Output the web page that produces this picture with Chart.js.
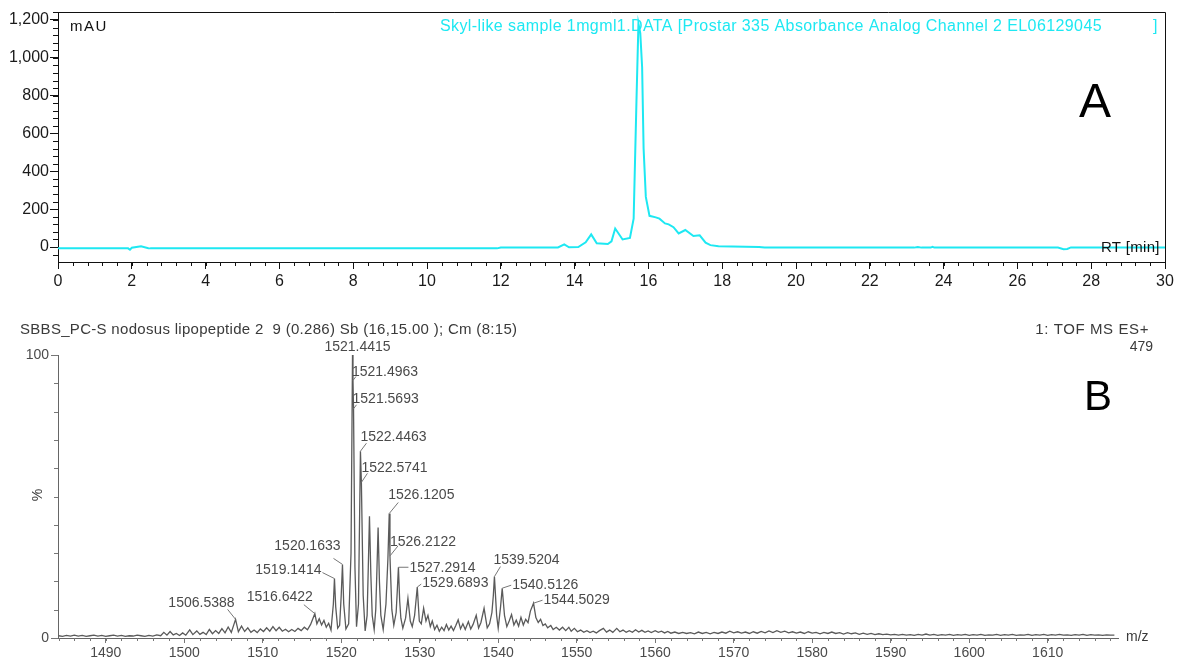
<!DOCTYPE html>
<html>
<head>
<meta charset="utf-8">
<script src="https://cdn.jsdelivr.net/npm/chart.js@4.4.1/dist/chart.umd.min.js"></script>
<style>
  html, body { margin: 0; padding: 0; background: #fff; }
  #wrap { position: relative; width: 1178px; height: 662px; overflow: hidden; }
  #chromCanvas { position: absolute; left: 0; top: 0; }
  #msCanvas { position: absolute; left: 0; top: 300px; }
</style>
</head>
<body>
<div id="wrap">
  <canvas id="chromCanvas" width="1178" height="300"></canvas>
  <canvas id="msCanvas" width="1178" height="362"></canvas>
</div>
<script>
// ---- panel A : chromatogram, [RT min, mAU]
const chromTrace = [
  [0, -7], [1.9, -7], [1.95, -14], [2.0, -4], [2.25, 4], [2.45, -6], [2.5, -7],
  [11.9, -7], [12.0, -2], [13.55, -2], [13.72, 14], [13.85, -1], [14.1, 0],
  [14.3, 25], [14.45, 67], [14.6, 20], [14.9, 16], [15.0, 30], [15.1, 98],
  [15.3, 40], [15.5, 48], [15.6, 150], [15.68, 800], [15.73, 1180], [15.78, 1130],
  [15.83, 950], [15.87, 520], [15.93, 265], [16.03, 165], [16.2, 157], [16.3, 150],
  [16.45, 125], [16.55, 120], [16.68, 105], [16.82, 72], [17.0, 90], [17.22, 58],
  [17.39, 62], [17.55, 23], [17.68, 10], [17.9, 4], [19.0, 0], [19.15, -3],
  [23.2, -3], [23.3, 0], [23.4, -3], [23.65, -3], [23.7, 1], [23.75, -3],
  [27.1, -3], [27.25, -12], [27.35, -10], [27.45, -2], [30, -2]
];
const chromXTicks = [0, 2, 4, 6, 8, 10, 12, 14, 16, 18, 20, 22, 24, 26, 28, 30];
const chromYTicks = [0, 200, 400, 600, 800, 1000, 1200];

// ---- panel B : mass spectrum, [m/z, %]
const msProfile = [
  [1484.0, 0.8], [1484.5, 0.6], [1485.0, 0.9], [1485.5, 0.7], [1486.0, 1.0], [1486.5, 0.7],
  [1487.0, 0.9], [1487.5, 0.6], [1488.0, 0.8], [1488.5, 1.0], [1489.0, 0.7], [1489.5, 0.9],
  [1490.0, 0.6], [1490.5, 0.8], [1491.0, 1.0], [1491.5, 0.7], [1492.0, 0.9], [1492.5, 0.6],
  [1493.0, 0.8], [1493.5, 0.7], [1494.0, 1.0], [1494.5, 0.8], [1495.0, 0.6], [1495.5, 0.9],
  [1496.0, 0.7], [1496.5, 1.1], [1497.0, 0.8], [1497.4, 2.0], [1497.8, 1.0], [1498.2, 2.3],
  [1498.6, 1.1], [1499.0, 1.6], [1499.4, 0.9], [1499.8, 1.8], [1500.2, 1.0], [1500.7, 2.9],
  [1501.1, 1.2], [1501.6, 2.5], [1502.0, 1.3], [1502.4, 2.0], [1502.8, 1.2], [1503.2, 3.0],
  [1503.6, 1.5], [1504.0, 2.6], [1504.4, 1.6], [1504.8, 3.3], [1505.2, 1.8], [1505.6, 3.9],
  [1506.0, 2.0], [1506.54, 6.6], [1506.9, 2.2], [1507.3, 4.2], [1507.7, 2.3], [1508.1, 3.6],
  [1508.5, 2.0], [1508.9, 2.8], [1509.3, 1.9], [1509.7, 3.2], [1510.1, 2.3], [1510.5, 3.6],
  [1510.9, 2.4], [1511.3, 4.0], [1511.7, 2.6], [1512.1, 3.8], [1512.5, 2.4], [1512.9, 3.1],
  [1513.3, 2.2], [1513.7, 3.0], [1514.1, 2.3], [1514.5, 3.4], [1514.9, 2.6], [1515.3, 3.8],
  [1515.7, 2.9], [1516.1, 4.8], [1516.64, 8.6], [1516.9, 5.0], [1517.2, 6.8], [1517.5, 4.6],
  [1517.8, 6.2], [1518.1, 3.8], [1518.4, 5.2], [1518.7, 2.8], [1519.0, 12], [1519.14, 21], [1519.3, 11],
  [1519.55, 3.5], [1519.8, 4.5], [1520.0, 15], [1520.16, 26], [1520.32, 12], [1520.6, 3.2], [1520.95, 5],
  [1521.25, 30], [1521.44, 100], [1521.5, 91], [1521.57, 81], [1521.75, 25], [1521.95, 4], [1522.2, 12],
  [1522.45, 66], [1522.57, 55], [1522.8, 15], [1523.05, 2.5], [1523.3, 8], [1523.45, 25], [1523.6, 43],
  [1523.78, 22], [1523.95, 8], [1524.2, 3], [1524.4, 10], [1524.55, 24], [1524.7, 39], [1524.87, 20],
  [1525.05, 8], [1525.35, 3], [1525.7, 12], [1525.95, 28], [1526.12, 44], [1526.21, 29], [1526.45, 10],
  [1526.7, 4.5], [1527.0, 9], [1527.15, 17], [1527.29, 25], [1527.45, 13], [1527.6, 7], [1527.85, 3.5],
  [1528.2, 7], [1528.5, 14], [1528.8, 6], [1529.05, 4], [1529.35, 8], [1529.52, 13], [1529.69, 18],
  [1529.95, 6], [1530.2, 5], [1530.5, 10.5], [1530.8, 6],
  [1531.05, 8], [1531.35, 4], [1531.6, 6], [1531.9, 3], [1532.2, 4.5], [1532.5, 2.4],
  [1532.8, 3.8], [1533.1, 2.6], [1533.4, 4.8], [1533.7, 2.8], [1534.0, 4.2], [1534.3, 2.6],
  [1534.6, 4.4], [1534.9, 6.4], [1535.2, 3.2], [1535.5, 5], [1535.8, 3], [1536.2, 5.8],
  [1536.5, 3.2], [1536.8, 4.8], [1537.2, 8], [1537.5, 3.5], [1537.8, 5.5], [1538.2, 10.5],
  [1538.6, 3.6], [1538.9, 5], [1539.2, 9], [1539.38, 15], [1539.52, 21.7], [1539.8, 8], [1540.0, 3.5],
  [1540.3, 11], [1540.51, 17.6], [1540.8, 8], [1541.1, 4], [1541.4, 6], [1541.7, 8.3], [1542.0, 4.6],
  [1542.3, 6.3], [1542.6, 4.2], [1542.9, 7.3], [1543.2, 4.6], [1543.5, 6.6], [1543.8, 5.4],
  [1544.1, 9.5], [1544.5, 12.3], [1544.8, 7.2], [1545.1, 5.5], [1545.4, 6.6], [1545.7, 4.4],
  [1546.0, 5], [1546.3, 3.6], [1546.7, 4.4], [1547.0, 3], [1547.4, 3.8], [1547.8, 2.8],
  [1548.2, 3.8], [1548.6, 2.6], [1549.0, 3.8], [1549.3, 2.4], [1549.7, 3.4], [1550.1, 2.2],
  [1550.5, 2.8], [1550.9, 2.0], [1551.3, 2.6], [1551.7, 1.9], [1552.1, 2.4], [1552.5, 1.8],
  [1552.9, 2.6], [1553.4, 3.4], [1553.8, 2.1], [1554.2, 2.8], [1554.6, 2.0], [1555.1, 3.4],
  [1555.5, 2.2], [1555.9, 2.8], [1556.3, 2.0], [1556.7, 2.6], [1557.1, 2.0], [1557.5, 2.9],
  [1557.9, 2.1], [1558.3, 2.7], [1558.7, 2.0], [1559.1, 2.5], [1559.5, 1.9], [1560.0, 2.6],
  [1560.4, 2.0], [1560.8, 2.4], [1561.2, 1.8], [1561.6, 2.3], [1562.0, 1.7], [1562.5, 2.1],
  [1563.0, 1.6], [1563.5, 2.0], [1564.0, 1.6], [1564.5, 1.9], [1565.0, 1.5], [1565.5, 2.1],
  [1566.0, 1.6], [1566.5, 2.0], [1567.0, 1.5], [1567.5, 2.0], [1568.0, 1.6], [1568.5, 2.1],
  [1569.0, 1.7], [1569.5, 2.4], [1570.0, 1.8], [1570.5, 2.2], [1571.0, 1.7], [1571.5, 2.1],
  [1572.0, 1.6], [1572.5, 2.2], [1573.0, 1.7], [1573.5, 2.3], [1574.0, 1.8], [1574.5, 2.5],
  [1575.0, 1.9], [1575.5, 2.6], [1576.0, 2.0], [1576.5, 2.4], [1577.0, 1.8], [1577.5, 2.2],
  [1578.0, 1.7], [1578.5, 2.1], [1579.0, 1.6], [1579.5, 2.2], [1580.0, 1.7], [1580.5, 2.0],
  [1581.0, 1.5], [1581.5, 2.0], [1582.0, 1.6], [1582.5, 2.1], [1583.0, 1.6], [1583.5, 1.9],
  [1584.0, 1.4], [1584.5, 1.9], [1585.0, 1.5], [1585.5, 1.8], [1586.0, 1.3], [1586.5, 1.7],
  [1587.0, 1.3], [1587.5, 1.6], [1588.0, 1.2], [1588.5, 1.5], [1589.0, 1.2], [1589.5, 1.4],
  [1590.0, 1.1], [1590.5, 1.3], [1591.0, 1.0], [1591.5, 1.3], [1592.0, 1.0], [1592.5, 1.2],
  [1593.0, 0.9], [1593.5, 1.3], [1594.0, 1.0], [1594.5, 1.4], [1595.0, 1.0], [1595.5, 1.3],
  [1596.0, 0.9], [1596.5, 1.2], [1597.0, 1.0], [1597.5, 1.3], [1598.0, 0.9], [1598.5, 1.2],
  [1599.0, 1.0], [1599.5, 1.3], [1600.0, 0.9], [1600.5, 1.2], [1601.0, 1.0], [1601.5, 1.3],
  [1602.0, 0.9], [1602.5, 1.1], [1603.0, 1.0], [1603.5, 1.3], [1604.0, 0.9], [1604.5, 1.2],
  [1605.0, 1.0], [1605.5, 1.3], [1606.0, 0.9], [1606.5, 1.1], [1607.0, 1.0], [1607.5, 1.3],
  [1608.0, 0.9], [1608.5, 1.2], [1609.0, 1.0], [1609.5, 1.3], [1610.0, 0.9], [1610.5, 1.2],
  [1611.0, 1.0], [1611.5, 1.3], [1612.0, 1.0], [1612.5, 1.1], [1613.0, 0.9], [1613.5, 1.2],
  [1614.0, 1.0], [1614.5, 1.3], [1615.0, 0.9], [1615.5, 1.2], [1616.0, 1.0], [1616.5, 1.1],
  [1617.0, 0.9], [1617.5, 1.1], [1618.0, 1.0], [1618.5, 1.0]
];
const msXTicks = [1490, 1500, 1510, 1520, 1530, 1540, 1550, 1560, 1570, 1580, 1590, 1600, 1610];
const msYTicks = [0, 100];

// labelled peaks (m/z, % at the peak)
const peakLabelMz = [1521.4415, 1521.4963, 1521.5693, 1522.4463, 1522.5741, 1526.1205, 1526.2122, 1527.2914,
  1529.6893, 1520.1633, 1519.1414, 1516.6422, 1506.5388, 1539.5204, 1540.5126, 1544.5029];
const peakLabelPct = [100, 91, 81, 66, 55, 44, 29, 25, 18, 26, 21, 8.6, 6.6, 21.7, 17.6, 12.3];

// where each label text sits relative to its peak (px)
const labelLayout = [
  { align: 'center', dx: 5, dy: -8, lead: null },
  { align: 'left', dx: -1, dy: -8, lead: [3, -4] },
  { align: 'left', dx: -1, dy: -9.5, lead: [3, -4] },
  { align: 'left', dx: 0, dy: -14, lead: [6, -8] },
  { align: 'left', dx: 0, dy: -14, lead: [6, -9] },
  { align: 'left', dx: -1, dy: -18, lead: [9, -11] },
  { align: 'left', dx: 0, dy: -13.5, lead: [8, -10] },
  { align: 'left', dx: 11, dy: 1, lead: [10, 0] },
  { align: 'left', dx: 5, dy: -4, lead: [4, -3] },
  { align: 'right', dx: -2, dy: -18, lead: [-9, -6] },
  { align: 'right', dx: -13, dy: -8, lead: [-12, -6] },
  { align: 'right', dx: -2, dy: -17, lead: [-11, -9] },
  { align: 'right', dx: -1, dy: -16, lead: [-8, -10] },
  { align: 'left', dx: -1, dy: -16.6, lead: [6, -10] },
  { align: 'left', dx: 10, dy: -3, lead: [9, -3] },
  { align: 'left', dx: 10, dy: -3, lead: [9, -3] }
];

const FONT = "'Liberation Sans', Arial, Helvetica, sans-serif";
Chart.defaults.font.family = FONT;

// free text drawn on top of a chart
const panelText = {
  id: 'panelText',
  afterDraw(chart, args, opts) {
    const ctx = chart.ctx;
    (opts.items || []).forEach(t => {
      ctx.save();
      ctx.font = t.font;
      ctx.fillStyle = t.color;
      ctx.textAlign = t.align || 'left';
      ctx.textBaseline = t.baseline || 'middle';
      if ('letterSpacing' in ctx) ctx.letterSpacing = t.spacing || '0px';
      ctx.translate(t.x, t.y);
      if (t.rotate) ctx.rotate(t.rotate);
      ctx.fillText(t.text, 0, 0);
      ctx.restore();
    });
  }
};

// small unlabelled ticks between the main ones, plus optional top/right frame
const minorTicks = {
  id: 'minorTicks',
  afterDraw(chart, args, opts) {
    const { ctx, chartArea } = chart;
    const xs = chart.scales.x, ys = chart.scales.y;
    ctx.save();
    ctx.strokeStyle = opts.color;
    ctx.lineWidth = 1;
    ctx.beginPath();
    const nx = Math.floor((xs.max - opts.xFrom) / opts.xStep + 1e-6);
    for (let i = 0; i <= nx; i++) {
      const p = Math.round(xs.getPixelForValue(opts.xFrom + i * opts.xStep)) + 0.5;
      ctx.moveTo(p, chartArea.bottom);
      ctx.lineTo(p, chartArea.bottom + opts.xLen);
    }
    const ny = Math.floor((ys.max - opts.yFrom) / opts.yStep + 1e-6);
    for (let i = 0; i <= ny; i++) {
      const p = Math.round(ys.getPixelForValue(opts.yFrom + i * opts.yStep)) + 0.5;
      ctx.moveTo(chartArea.left, p);
      ctx.lineTo(chartArea.left - opts.yLen, p);
    }
    if (opts.frame) {
      ctx.moveTo(chartArea.left, Math.round(chartArea.top) + 0.5);
      ctx.lineTo(chartArea.right + 0.5, Math.round(chartArea.top) + 0.5);
      ctx.lineTo(Math.round(chartArea.right) + 0.5, chartArea.bottom);
    }
    ctx.stroke();
    ctx.restore();
  }
};

const peakLabels = {
  id: 'peakLabels',
  afterDatasetsDraw(chart, args, opts) {
    if (!opts.show) return;
    const ctx = chart.ctx;
    const xs = chart.scales.x, ys = chart.scales.y;
    ctx.save();
    ctx.font = opts.font;
    ctx.fillStyle = opts.color;
    ctx.strokeStyle = opts.lineColor;
    ctx.lineWidth = 1;
    ctx.textBaseline = 'middle';
    peakLabelMz.forEach((mz, i) => {
      const px = xs.getPixelForValue(mz);
      const py = ys.getPixelForValue(peakLabelPct[i]);
      const lay = labelLayout[i];
      if (lay.lead) {
        ctx.beginPath();
        ctx.moveTo(px, py);
        ctx.lineTo(px + lay.lead[0], py + lay.lead[1]);
        ctx.stroke();
      }
      ctx.textAlign = lay.align;
      ctx.fillText(mz.toFixed(4), px + lay.dx, py + lay.dy);
    });
    ctx.restore();
  }
};

const CYAN = 'rgb(30,232,242)';

new Chart(document.getElementById('chromCanvas'), {
  type: 'line',
  data: {
    datasets: [{
      data: chromTrace.map(p => ({ x: p[0], y: p[1] })),
      borderColor: CYAN,
      borderWidth: 2,
      pointRadius: 0,
      tension: 0
    }]
  },
  options: {
    responsive: false,
    animation: false,
    events: [],
    layout: { padding: { top: 12, right: 13, left: 0, bottom: 0 } },
    plugins: {
      legend: { display: false },
      tooltip: { enabled: false },
      minorTicks: { color: '#111', xFrom: 0, xStep: 0.4, xLen: 4, yFrom: -40, yStep: 40, yLen: 5, frame: true },
      peakLabels: { show: false },
      panelText: {
        items: [
          { text: 'mAU', x: 70, y: 27, font: '15px ' + FONT, color: '#111', spacing: '1.5px' },
          { text: 'Skyl-like sample 1mgml1.DATA [Prostar 335 Absorbance Analog Channel 2 EL06129045', x: 440, y: 27, font: '16px ' + FONT, color: CYAN, spacing: '0.4px' },
          { text: ']', x: 1153, y: 27, font: '16px ' + FONT, color: CYAN },
          { text: 'RT [min]', x: 1101, y: 248, font: '15px ' + FONT, color: '#111', spacing: '0.3px' },
          { text: 'A', x: 1079, y: 117, font: '48px ' + FONT, color: '#000', baseline: 'alphabetic' }
        ]
      }
    },
    scales: {
      x: {
        type: 'linear', min: 0, max: 30,
        afterBuildTicks: s => { s.ticks = chromXTicks.map(v => ({ value: v })); },
        afterFit: s => { s.height = 38; },
        grid: { drawOnChartArea: false, tickLength: 7, color: '#111' },
        border: { color: '#111', width: 1 },
        ticks: { font: { size: 16 }, color: '#1a1a1a', padding: 3, maxRotation: 0 }
      },
      y: {
        type: 'linear', min: -79, max: 1242,
        afterBuildTicks: s => { s.ticks = chromYTicks.map(v => ({ value: v })); },
        afterFit: s => { s.width = 58; },
        grid: { drawOnChartArea: false, tickLength: 8, color: '#111' },
        border: { color: '#111', width: 1 },
        ticks: { font: { size: 16 }, color: '#1a1a1a', padding: 1, callback: v => v.toLocaleString('en-US') }
      }
    }
  },
  plugins: [minorTicks, panelText, peakLabels]
});

const GREY = '#4a4a4a';

new Chart(document.getElementById('msCanvas'), {
  type: 'line',
  data: {
    datasets: [{
      data: msProfile.map(p => ({ x: p[0], y: p[1] })),
      borderColor: '#5a5a5a',
      borderWidth: 1.3,
      pointRadius: 0,
      tension: 0
    }]
  },
  options: {
    responsive: false,
    animation: false,
    events: [],
    layout: { padding: { top: 55, right: 60, left: 0, bottom: 0 } },
    plugins: {
      legend: { display: false },
      tooltip: { enabled: false },
      minorTicks: { color: '#777', xFrom: 1484, xStep: 2, xLen: 3, yFrom: 0, yStep: 10, yLen: 4, frame: false },
      peakLabels: { show: true, font: '14px ' + FONT, color: GREY, lineColor: '#777' },
      panelText: {
        items: [
          { text: 'SBBS_PC-S nodosus lipopeptide 2  9 (0.286) Sb (16,15.00 ); Cm (8:15)', x: 20, y: 30, font: '15px ' + FONT, color: '#3a3a3a', spacing: '0.3px' },
          { text: '1: TOF MS ES+', x: 1149, y: 30, font: '15px ' + FONT, color: '#3a3a3a', align: 'right', spacing: '0.6px' },
          { text: '479', x: 1153, y: 47, font: '14px ' + FONT, color: '#3a3a3a', align: 'right' },
          { text: 'B', x: 1084, y: 110, font: '42px ' + FONT, color: '#000', baseline: 'alphabetic' },
          { text: 'm/z', x: 1126, y: 337, font: '14px ' + FONT, color: '#3a3a3a' },
          { text: '%', x: 38, y: 195, font: '14px ' + FONT, color: '#3a3a3a', align: 'center', rotate: -Math.PI / 2 }
        ]
      }
    },
    scales: {
      x: {
        type: 'linear', min: 1483.92, max: 1618.96,
        afterBuildTicks: s => { s.ticks = msXTicks.map(v => ({ value: v })); },
        afterFit: s => { s.height = 24; },
        grid: { drawOnChartArea: false, tickLength: 5, color: '#777' },
        border: { color: '#666', width: 1 },
        ticks: { font: { size: 14 }, color: GREY, padding: 2, maxRotation: 0, callback: v => String(v) }
      },
      y: {
        type: 'linear', min: 0, max: 100,
        afterBuildTicks: s => { s.ticks = msYTicks.map(v => ({ value: v })); },
        afterFit: s => { s.width = 58; },
        grid: { drawOnChartArea: false, tickLength: 7, color: '#777' },
        border: { color: '#666', width: 1 },
        ticks: { font: { size: 14 }, color: GREY, padding: 2 }
      }
    }
  },
  plugins: [minorTicks, panelText, peakLabels]
});
</script>
</body>
</html>
